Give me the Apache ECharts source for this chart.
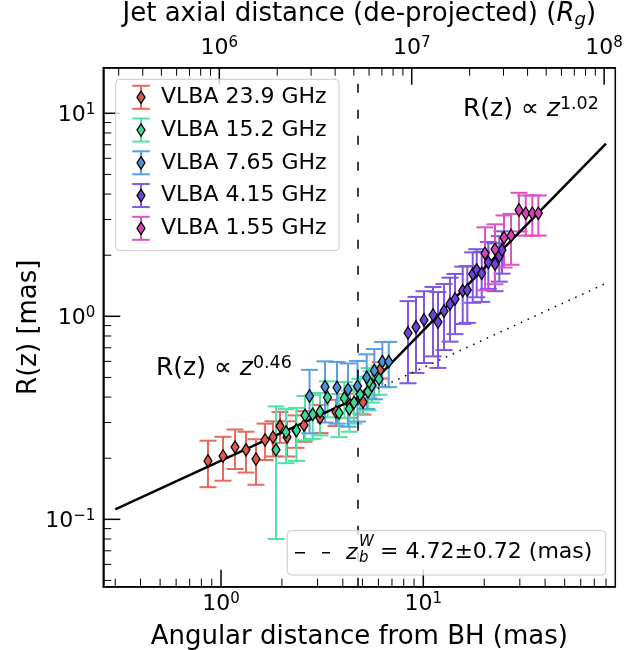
<!DOCTYPE html>
<html><head><meta charset="utf-8">
<script src="https://cdn.jsdelivr.net/npm/echarts@6/dist/echarts.min.js"></script>
<style>html,body{margin:0;padding:0;background:#fff}#c{width:626px;height:650px}</style>
</head><body><div id="c"></div>
<script>
// ---------------- data ----------------
const seriesLabels = ['VLBA 23.9 GHz','VLBA 15.2 GHz','VLBA 7.65 GHz','VLBA 4.15 GHz','VLBA 1.55 GHz'];
const barColors    = ['#e8695e','#52e3a4','#5a9fe2','#8157e2','#e052c4'];
const markColors   = ['#e0574b','#3fd894','#4a92dc','#7240d8','#de3fb8'];

const x23 = [0.862,1.023,1.173,1.329,1.489,1.651,1.807,1.957,2.120,2.348,2.572,3.086,3.702,4.342,5.035,5.578,6.109];
const y23 = [0.194,0.205,0.227,0.220,0.198,0.246,0.254,0.288,0.254,0.275,0.291,0.316,0.338,0.366,0.378,0.459,0.544];
const e23 = [0.05,0.05,0.05,0.05,0.05,0.05,0.05,0.05,0.05,0.05,0.05,0.05,0.05,0.05,0.05,0.05,0.05];

const x15 = [1.870,2.096,2.361,2.601,2.840,3.086,3.361,3.831,4.070,4.307,4.544,4.866,5.330,5.558,5.391,6.040];
const y15 = [0.220,0.269,0.274,0.325,0.329,0.339,0.398,0.334,0.395,0.350,0.376,0.412,0.425,0.456,0.476,0.491];
const e15 = [0.14,0.08,0.08,0.08,0.08,0.08,0.08,0.08,0.08,0.08,0.08,0.08,0.08,0.08,0.08,0.08];

const x7 = [2.739,3.267,3.745,4.245,4.729,5.252,5.725,6.271,6.745];
const y7 = [0.405,0.450,0.446,0.436,0.453,0.500,0.540,0.598,0.598];
const e7 = [0.14,0.15,0.15,0.15,0.15,0.15,0.15,0.15,0.15];

const x4 = [8.403,9.203,10.08,11.17,11.82,12.66,13.55,14.35,15.66,16.50,17.55,18.37,19.44,20.96,22.62,23.75,24.49];
const y4 = [0.828,0.886,0.959,1.015,0.937,1.062,1.150,1.217,1.337,1.348,1.616,1.691,1.628,1.845,1.810,1.982,2.122];
const e4 = [0.36,0.36,0.37,0.38,0.38,0.38,0.40,0.40,0.42,0.42,0.45,0.45,0.45,0.48,0.48,0.5,0.5];

const x1 = [20.18,22.62,25.06,27.14,29.72,32.08,34.58,37.03];
const y1 = [2.043,2.138,2.439,2.495,3.339,3.217,3.217,3.217];
const e1 = [0.7,0.7,0.7,0.7,0.72,0.72,0.72,0.72];

// broken power-law fit
const fitX = [0.30, 4.72, 80];
const fitY = [0.112, 0.396, 7.09];
const extX = [4.72, 80];
const extY = [0.396, 1.454];
const breakX = 4.72;

// axis extents
const xMin = 0.2619, xMax = 88.93;
const yMin = 0.04658, yMax = 16.77;
const rgMin = 2.495e5, rgMax = 1.143e8;

const FONT = '"DejaVu Sans"';

// --------------- helpers ---------------
function powLabel(v){
  const e = Math.log10(v), r = Math.round(e);
  if (Math.abs(e - r) > 1e-6) return '';
  return '{b|10}{s|' + (r < 0 ? '\u2212' + (-r) : r) + '}';
}
const richLab = {
  b: {fontSize: 22, fontFamily: FONT, color: '#000', lineHeight: 22, padding: [3,0,0,0]},
  s: {fontSize: 15, fontFamily: FONT, color: '#000', lineHeight: 15, verticalAlign: 'top'}
};
function minorList(lo, hi){
  const out = [];
  for (let p = Math.floor(Math.log10(lo)); p <= Math.ceil(Math.log10(hi)); p++){
    for (let m = 2; m <= 9; m++){ const v = m * Math.pow(10, p); if (v > lo && v < hi) out.push(v); }
  }
  return out;
}
function majorList(lo, hi){
  const out = [];
  for (let p = Math.ceil(Math.log10(lo)); p <= Math.floor(Math.log10(hi)); p++) out.push(Math.pow(10, p));
  return out;
}
function tickSeries(side, values, len, lw, xIdx){
  return {
    type: 'custom', xAxisIndex: xIdx || 0, yAxisIndex: 0, silent: true, z: 20, clip: false,
    data: values.map(v => side === 'left' ? [xMin, v] : [v, yMin]),
    encode: {x: 0, y: 1},
    renderItem: function(params, api){
      const cs = params.coordSys;
      const p = api.coord([api.value(0), api.value(1)]);
      let shape;
      if (side === 'bottom') shape = {x1: p[0], y1: cs.y + cs.height, x2: p[0], y2: cs.y + cs.height - len};
      else if (side === 'top') shape = {x1: p[0], y1: cs.y, x2: p[0], y2: cs.y + len};
      else shape = {x1: cs.x, y1: p[1], x2: cs.x + len, y2: p[1]};
      return {type: 'line', shape: shape, style: {stroke: '#000', lineWidth: lw}};
    }
  };
}
function errSeries(xs, ys, es, color){
  return {
    type: 'custom', z: 2, silent: true,
    data: xs.map((x, i) => [x, ys[i] - es[i], ys[i] + es[i]]),
    encode: {x: 0, y: [1, 2]},
    renderItem: function(params, api){
      const x = api.value(0);
      const a = api.coord([x, api.value(2)]), b = api.coord([x, api.value(1)]);
      const cw = 8.5, st = {stroke: color, lineWidth: 2};
      return {type: 'group', children: [
        {type: 'line', shape: {x1: a[0], y1: a[1], x2: b[0], y2: b[1]}, style: st},
        {type: 'line', shape: {x1: a[0]-cw, y1: a[1], x2: a[0]+cw, y2: a[1]}, style: st},
        {type: 'line', shape: {x1: b[0]-cw, y1: b[1], x2: b[0]+cw, y2: b[1]}, style: st}
      ]};
    }
  };
}
function scatSeries(name, xs, ys, color){
  return {
    type: 'scatter', name: name, z: 4, symbol: 'diamond', symbolSize: [8, 12.5],
    data: xs.map((x, i) => [x, ys[i]]),
    itemStyle: {color: color, borderColor: '#000', borderWidth: 1.3, opacity: 1}
  };
}

const allX = [x23, x15, x7, x4, x1], allY = [y23, y15, y7, y4, y1], allE = [e23, e15, e7, e4, e1];
const series = [];
for (let i = 0; i < 5; i++) series.push(errSeries(allX[i], allY[i], allE[i], barColors[i]));
for (let i = 0; i < 5; i++) series.push(scatSeries(seriesLabels[i], allX[i], allY[i], markColors[i]));
series.push({
  type: 'line', z: 3, silent: true, showSymbol: false, symbol: 'none',
  data: fitX.map((x, i) => [x, fitY[i]]),
  lineStyle: {color: '#000', width: 2.5},
  markLine: {silent: true, symbol: ['none','none'], label: {show: false},
    lineStyle: {color: '#000', width: 1.5, type: [9, 17]},
    data: [{xAxis: breakX}]}
});
series.push({
  type: 'line', z: 3, silent: true, showSymbol: false, symbol: 'none',
  data: extX.map((x, i) => [x, extY[i]]),
  lineStyle: {color: '#000', width: 1.5, type: [1.5, 6]}
});
series.push(tickSeries('bottom', minorList(xMin, xMax), 8, 1));
series.push(tickSeries('bottom', majorList(xMin, xMax), 17, 1.5));
series.push(tickSeries('left', minorList(yMin, yMax), 8, 1));
series.push(tickSeries('left', majorList(yMin, yMax), 17, 1.5));
series.push(tickSeries('top', minorList(rgMin, rgMax), 8, 1, 1));
series.push(tickSeries('top', majorList(rgMin, rgMax), 17, 1.5, 1));

// --------------- legends (graphic) ---------------
const g = [];
g.push({type: 'rect', z: 100, shape: {x: 115.7, y: 79.3, width: 223.3, height: 171.4, r: 4},
  style: {fill: 'rgba(255,255,255,0.8)', stroke: '#cccccc', lineWidth: 1}});
seriesLabels.forEach((lab, i) => {
  const cy = 97.3 + i * 32.75, cx = 141, h = 11.5, cw = 8.8;
  const st = {stroke: barColors[i], lineWidth: 2};
  g.push({type: 'line', z: 101, shape: {x1: cx, y1: cy - h, x2: cx, y2: cy + h}, style: st});
  g.push({type: 'line', z: 101, shape: {x1: cx - cw, y1: cy - h, x2: cx + cw, y2: cy - h}, style: st});
  g.push({type: 'line', z: 101, shape: {x1: cx - cw, y1: cy + h, x2: cx + cw, y2: cy + h}, style: st});
  g.push({type: 'polygon', z: 102, shape: {points: [[cx, cy - 6.2], [cx + 4, cy], [cx, cy + 6.2], [cx - 4, cy]]},
    style: {fill: markColors[i], stroke: '#000', lineWidth: 1.3}});
  g.push({type: 'text', z: 102, x: 161, y: cy, style: {text: lab, font: '22px ' + FONT, fill: '#000', verticalAlign: 'middle'}});
});
// second legend
g.push({type: 'rect', z: 100, shape: {x: 287.3, y: 530.7, width: 318.4, height: 44.3, r: 4},
  style: {fill: 'rgba(255,255,255,0.8)', stroke: '#cccccc', lineWidth: 1}});
g.push({type: 'line', z: 101, shape: {x1: 295, y1: 552.7, x2: 330, y2: 552.7}, style: {stroke: '#000', lineWidth: 1.5, lineDash: [10, 17]}});
g.push({type: 'text', z: 102, x: 346, y: 553, style: {text: 'z', font: 'italic 22px ' + FONT, fill: '#000', verticalAlign: 'middle'}});
g.push({type: 'text', z: 102, x: 359, y: 542, style: {text: 'W', font: 'italic 15px ' + FONT, fill: '#000', verticalAlign: 'middle'}});
g.push({type: 'text', z: 102, x: 359, y: 558, style: {text: 'b', font: 'italic 15px ' + FONT, fill: '#000', verticalAlign: 'middle'}});
g.push({type: 'text', z: 102, x: 380, y: 552.7, style: {text: '= 4.72\u00b10.72 (mas)', font: '22px ' + FONT, fill: '#000', verticalAlign: 'middle'}});
// annotations
const annRich = {
  n: {fontSize: 25, fontFamily: FONT, color: '#000', lineHeight: 25, padding: [2,0,0,0]},
  i: {fontSize: 25, fontFamily: FONT, fontStyle: 'italic', color: '#000', lineHeight: 25, padding: [2,0,0,0]},
  s: {fontSize: 17.5, fontFamily: FONT, color: '#000', lineHeight: 17.5, verticalAlign: 'top'}
};
g.push({type: 'text', z: 102, x: 463, y: 108, style: {text: '{n|R(z) \u221d }{i|z}{s|1.02}', rich: annRich, verticalAlign: 'middle'}});
g.push({type: 'text', z: 102, x: 156, y: 367, style: {text: '{n|R(z) \u221d }{i|z}{s|0.46}', rich: annRich, verticalAlign: 'middle'}});

// --------------- chart ---------------
const chart = echarts.init(document.getElementById('c'), null, {renderer: 'canvas'});
chart.setOption({
  animation: false,
  backgroundColor: '#fff',
  grid: {left: 103.3, right: 10.7, top: 67.7, bottom: 63.3, containLabel: false, outerBoundsMode: 'none',
    show: true, borderColor: '#000', borderWidth: 1.5, backgroundColor: 'transparent'},
  xAxis: [{
    type: 'log', logBase: 10, min: xMin, max: xMax, position: 'bottom',
    name: 'Angular distance from BH (mas)', nameLocation: 'middle', nameGap: 38,
    nameTextStyle: {fontSize: 26, fontFamily: FONT, color: '#000'},
    axisLine: {show: true, lineStyle: {color: '#000', width: 1.5}},
    axisTick: {show: false}, splitLine: {show: false}, minorTick: {show: false},
    axisLabel: {formatter: powLabel, rich: richLab, margin: 5, showMinLabel: false, showMaxLabel: false, color: '#000'}
  }, {
    type: 'log', logBase: 10, min: rgMin, max: rgMax, position: 'top',
    name: '{n|Jet axial distance (de-projected) (}{i|R}{u|g}{n|)}', nameLocation: 'middle', nameGap: 24,
    nameTextStyle: {rich: {
      n: {fontSize: 26, fontFamily: FONT, color: '#000', lineHeight: 30},
      i: {fontSize: 26, fontFamily: FONT, fontStyle: 'italic', color: '#000', lineHeight: 30},
      u: {fontSize: 18, fontFamily: FONT, fontStyle: 'italic', color: '#000', lineHeight: 18, verticalAlign: 'bottom'}
    }},
    axisLine: {show: true, lineStyle: {color: '#000', width: 1.5}},
    axisTick: {show: false}, splitLine: {show: false}, minorTick: {show: false},
    axisLabel: {formatter: powLabel, rich: richLab, margin: 10, showMinLabel: false, showMaxLabel: false, color: '#000'}
  }],
  yAxis: [{
    type: 'log', logBase: 10, min: yMin, max: yMax,
    name: 'R(z) [mas]', nameLocation: 'middle', nameGap: 61, nameMoveOverlap: false,
    nameTextStyle: {fontSize: 26, fontFamily: FONT, color: '#000'},
    axisLine: {show: true, lineStyle: {color: '#000', width: 1.5}},
    axisTick: {show: false}, splitLine: {show: false}, minorTick: {show: false},
    axisLabel: {formatter: powLabel, rich: richLab, margin: 8, showMinLabel: false, showMaxLabel: false, color: '#000'}
  }],
  graphic: g,
  series: series
});
</script>
</body></html>
